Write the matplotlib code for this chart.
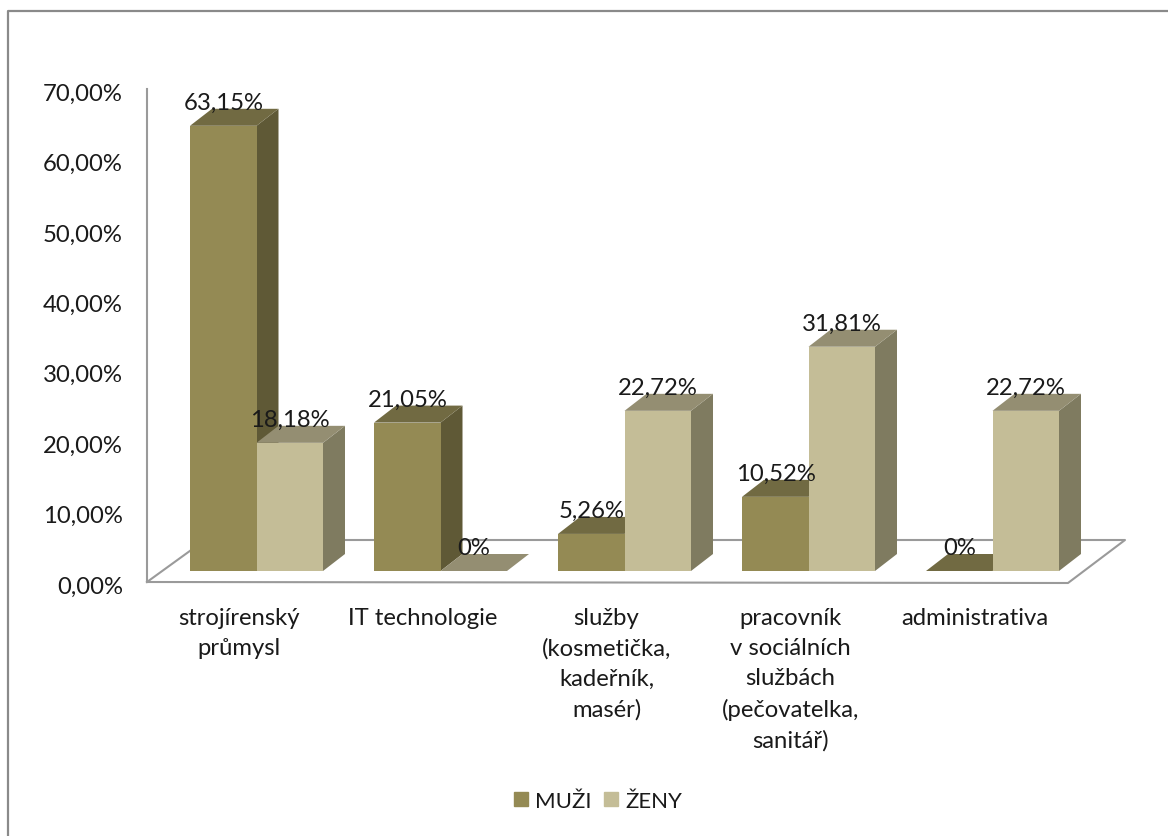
import matplotlib
matplotlib.use('Agg')
import matplotlib.pyplot as plt
from matplotlib.patches import Patch

plt.rcParams['font.family'] = ['Lato', 'DejaVu Sans']

categories = ['strojírenský\nprůmysl', 'IT technologie',
              'služby\n(kosmetička,\nkadeřník,\nmasér)',
              'pracovník\nv sociálních\nslužbách\n(pečovatelka,\nsanitář)',
              'administrativa']
muzi = [63.15, 21.05, 5.26, 10.52, 0]
zeny = [18.18, 0, 22.72, 31.81, 22.72]
muzi_labels = ['63,15%', '21,05%', '5,26%', '10,52%', '0%']
zeny_labels = ['18,18%', '0%', '22,72%', '31,81%', '22,72%']
yticks = [0, 10, 20, 30, 40, 50, 60, 70]
ytick_labels = ['0,00%', '10,00%', '20,00%', '30,00%', '40,00%', '50,00%', '60,00%', '70,00%']

W, H = 1168, 837
GROUP = 184.0      # px between categories
PX_PER = 7.05      # px per percent
X0, Y0 = 256.5, 572.0
BAR = 66.5 / GROUP
DX = 22 / GROUP    # depth of the bars
DY = 17 / PX_PER
FS = 17.2
INK = '#1a1a1a'

fig = plt.figure(figsize=(W / 100, H / 100), dpi=100)
ax = fig.add_axes([0, 0, 1, 1])
ax.set_xlim(-X0 / GROUP, (W - X0) / GROUP)
ax.set_ylim((Y0 - H) / PX_PER, Y0 / PX_PER)
ax.axis('off')


def px(x, y):
    return (x - X0) / GROUP, (Y0 - y) / PX_PER


def bar3d(left, value, front, top, side):
    r = left + BAR
    ax.fill([r, r + DX, r + DX, r], [0, DY, value + DY, value], color=side, lw=0, zorder=2)
    ax.fill([left, r, r + DX, left + DX], [value, value, value + DY, value + DY],
            color=top, lw=0, zorder=2)
    if value > 0:
        ax.fill([left, r, r, left], [0, 0, value, value], color=front, lw=0, zorder=3)


# outer frame, only top and left fall inside the canvas
fx, fy = zip(*[px(8, H + 2), px(8, 12), px(W + 2, 12)])
ax.plot(fx, fy, color='#8a8a8a', lw=1.6, zorder=1)

# floor and back wall edge
floor = [px(147, 583), px(205, 541), px(1125, 541), px(1068, 584), px(147, 583)]
ax.plot(*zip(*floor), color='#9a9a9a', lw=1.5, zorder=1)
ax.plot(*zip(px(147, 583), px(147, 90)), color='#9a9a9a', lw=1.5, zorder=1)

LAB_DX = -0.058
LAB_DY = 6.5 / PX_PER
for i in range(len(categories)):
    bar3d(i - BAR, muzi[i], '#948a54', '#716a42', '#5f5936')
    bar3d(i, zeny[i], '#c4bd97', '#948e72', '#7f7b60')
    ax.text(i - BAR + 0.5 * (BAR + DX) + LAB_DX, muzi[i] + DY + LAB_DY, muzi_labels[i],
            ha='center', va='center', fontsize=FS, color=INK, zorder=5)
    ax.text(i + 0.5 * (BAR + DX) + LAB_DX, zeny[i] + DY + LAB_DY, zeny_labels[i],
            ha='center', va='center', fontsize=FS, color=INK, zorder=5)
    xc, yc = px(X0 + i * GROUP - 18, 608)
    ax.text(xc, yc, categories[i], ha='center', va='top', fontsize=FS,
            color=INK, linespacing=1.53)

for t, lab in zip(yticks, ytick_labels):
    xt, yt = px(123, 587 - 7.04 * t)
    ax.text(xt, yt, lab, ha='right', va='center', fontsize=FS, color=INK)

handles = [Patch(color='#948a54'), Patch(color='#c4bd97')]
ax.legend(handles, ['MUŽI', 'ŽENY'], ncol=2, frameon=False, fontsize=16,
          loc='center', bbox_to_anchor=(598 / W, 1 - 802 / H), bbox_transform=fig.transFigure,
          handlelength=0.63, handleheight=0.63, handletextpad=0.3, columnspacing=0.6,
          labelcolor=INK)

fig.savefig('out.png', dpi=100)
